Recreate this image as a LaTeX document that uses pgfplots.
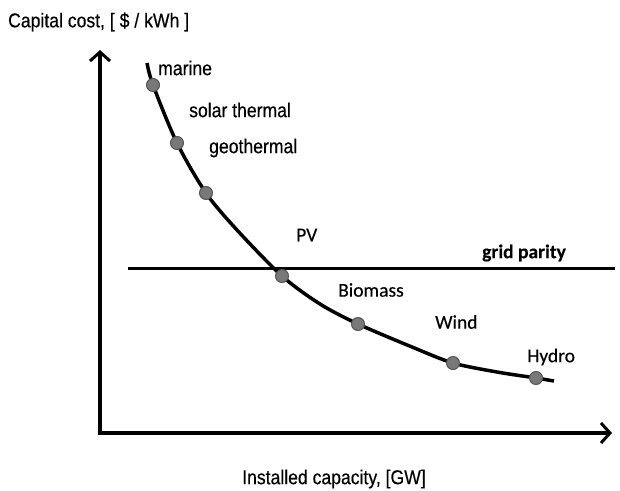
\documentclass[border=0pt]{standalone}
\usepackage{fontspec}
\setmainfont{Liberation Sans}
\newfontfamily\narrowfont[FakeStretch=0.88,FakeBold=0.4]{Liberation Sans}
\newfontfamily\calfont[FakeBold=0.3]{Carlito}
\usepackage{pgfplots}
\pgfplotsset{compat=1.18}
\usetikzlibrary{arrows.meta}

\definecolor{markgray}{RGB}{120,120,120}
\definecolor{markedge}{RGB}{85,85,85}

\begin{document}
\begin{tikzpicture}
\begin{axis}[
  hide axis,
  scale only axis,
  width=620pt, height=490pt,
  xmin=0, xmax=620, ymin=0, ymax=490,
  y dir=reverse,
  clip=false,
]
% invisible frame that fixes the picture size
\addplot[draw=none, mark=none] coordinates {(0,0) (620,490)};

% axes with arrows
\addplot[line width=3.5pt, -{Straight Barb[length=9pt,width=20pt,line width=3pt]}] coordinates {(100,433) (100,50)};
\addplot[line width=3.5pt, -{Straight Barb[length=9pt,width=20pt,line width=3pt]}] coordinates {(98,433) (612,433)};

% grid parity line
\addplot[line width=3.5pt] coordinates {(128,268.5) (615,268.5)};

% learning curve
\addplot[line width=3.5pt, smooth] coordinates {
  (147,63) (153,85) (177,143) (206,193) (237,230)
  (282,276) (320,304) (358,324) (412,347) (453,363) (497,372)
  (536,378) (554,381)
};

% technologies
\addplot[only marks, mark=*, mark size=6.5pt, mark options={fill=markgray, draw=markedge, line width=1pt}] coordinates {
  (153,85) (177,143) (206,193) (282,276) (358,324) (453,363) (536,378)
};

\begin{scope}[every node/.style={inner sep=0pt}]
\node[anchor=west, font=\narrowfont\fontsize{20}{22}\selectfont] at (axis cs:8,22) {Capital cost, [ \$ / kWh ]};
\node[anchor=west, font=\narrowfont\fontsize{20}{22}\selectfont] at (axis cs:158,68) {marine};
\node[anchor=west, font=\narrowfont\fontsize{20}{22}\selectfont] at (axis cs:189,110) {solar thermal};
\node[anchor=west, font=\narrowfont\fontsize{20}{22}\selectfont] at (axis cs:209,148) {geothermal};
\node[anchor=west, font=\calfont\fontsize{19.5}{22}\selectfont] at (axis cs:296,235) {PV};
\node[anchor=west, font=\calfont\bfseries\fontsize{19.5}{22}\selectfont] at (axis cs:482,253) {grid parity};
\node[anchor=west, font=\calfont\fontsize{19.5}{22}\selectfont] at (axis cs:338,290) {Biomass};
\node[anchor=west, font=\calfont\fontsize{19.5}{22}\selectfont] at (axis cs:435,322) {Wind};
\node[anchor=west, font=\calfont\fontsize{19.5}{22}\selectfont] at (axis cs:527,357) {Hydro};
\node[font=\narrowfont\fontsize{20}{22}\selectfont] at (axis cs:334,479) {Installed capacity, [GW]};
\end{scope}
\end{axis}
\end{tikzpicture}
\end{document}
